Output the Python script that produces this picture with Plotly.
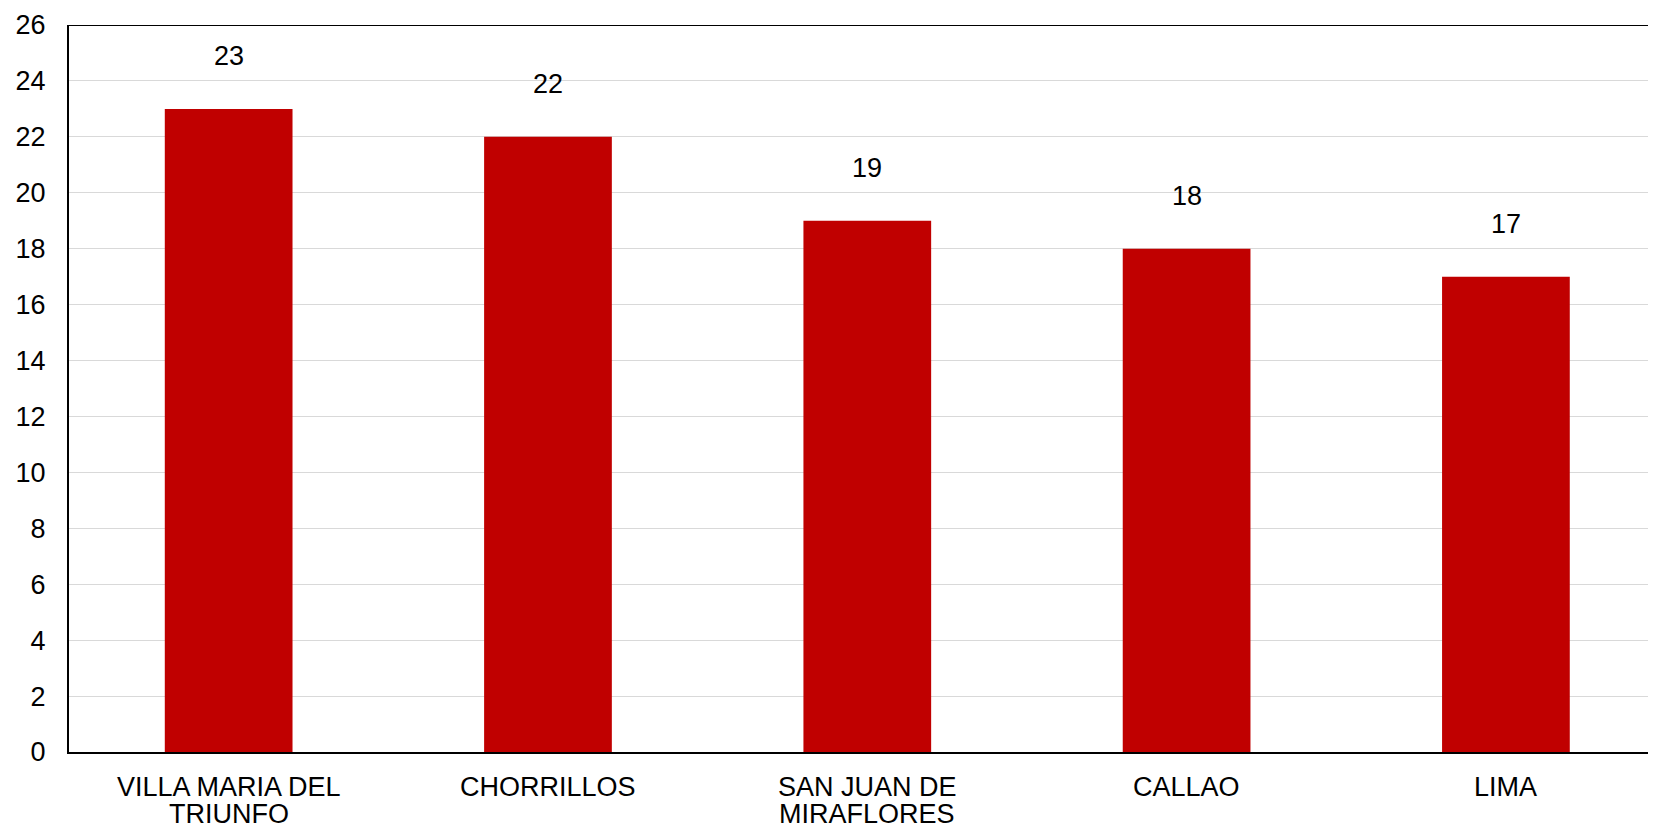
import plotly.graph_objects as go

# Data
districts = ["VILLA MARIA DEL<br>TRIUNFO", "CHORRILLOS", "SAN JUAN DE<br>MIRAFLORES", "CALLAO", "LIMA"]
counts = [23, 22, 19, 18, 17]
y_ticks = list(range(0, 27, 2))

font = dict(family="Arial, Liberation Sans, sans-serif", size=27, color="black")

fig = go.Figure()

fig.add_trace(go.Bar(
    x=list(range(len(districts))),
    y=counts,
    width=0.4,
    marker=dict(color="#C00000", line=dict(width=0)),
))

# value labels above bars
for i, v in enumerate(counts):
    fig.add_annotation(
        x=i, y=v, text=str(v), showarrow=False,
        yanchor="middle", yshift=53, font=font,
    )

# category labels (line by line, tighter spacing than plotly's <br>)
for i, name in enumerate(districts):
    for j, line in enumerate(name.split("<br>")):
        fig.add_annotation(
            x=i, y=0, text=line, showarrow=False,
            yanchor="middle", yshift=-(35 + 27 * j), font=font,
        )

# body has an 8px margin in the page, so the figure is shrunk by that
fig.update_layout(
    width=1648,
    height=819,
    margin=dict(l=61, r=0, t=17, b=75),
    plot_bgcolor="white",
    paper_bgcolor="white",
    font=font,
    showlegend=False,
)

fig.update_xaxes(
    tickvals=list(range(len(districts))),
    showticklabels=False,
    range=[-0.5, 4.47],
    showgrid=False,
    showline=True, linecolor="black", linewidth=2,
    ticks="",
    automargin=False,
)

fig.update_yaxes(
    range=[0, 26],
    tickvals=y_ticks,
    showgrid=True, gridcolor="#d9d9d9", gridwidth=1,
    showline=True, linecolor="black", linewidth=2,
    ticks="", ticklabelstandoff=16,
    tickfont=font,
    zeroline=False,
    automargin=False,
)

# top border of the plot area
fig.add_shape(type="line", xref="paper", yref="y", x0=0, x1=1, y0=26, y1=26,
              line=dict(color="black", width=2))

fig.write_html("out.html")
